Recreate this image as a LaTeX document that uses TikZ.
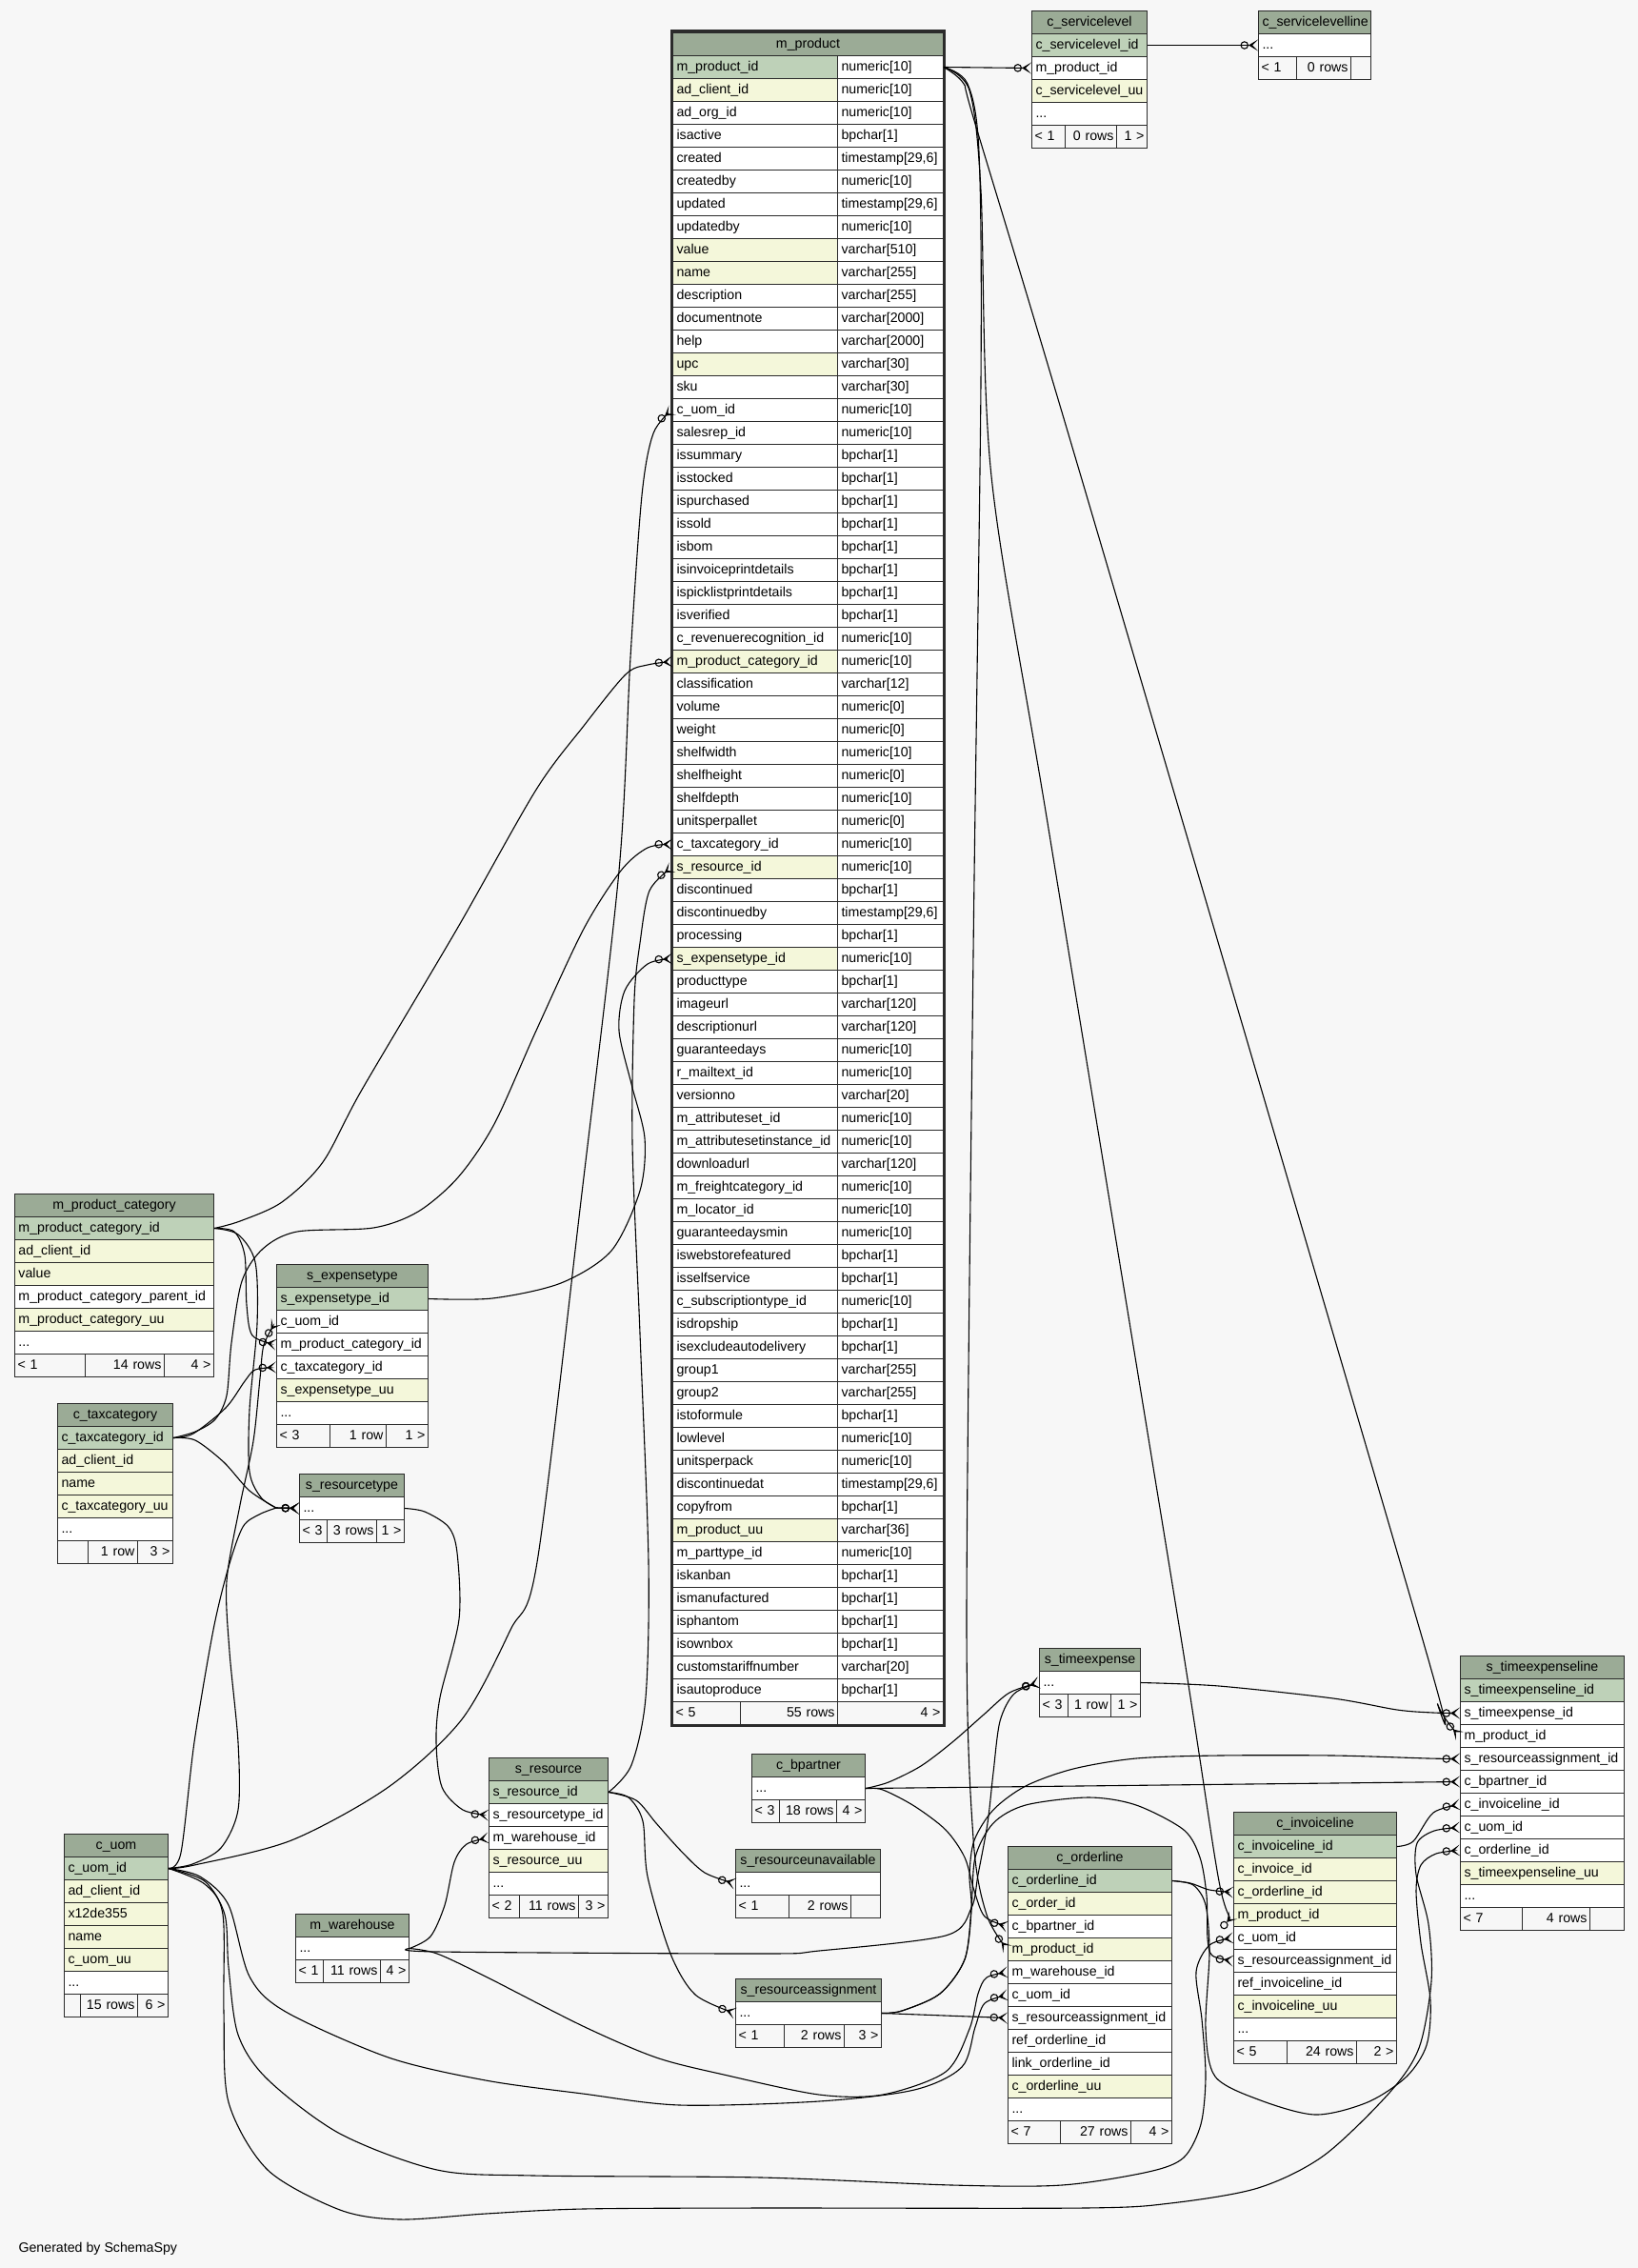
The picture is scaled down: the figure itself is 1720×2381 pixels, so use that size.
\documentclass[tikz,border=0pt]{standalone}
\usepackage{fontspec}
\setmainfont{Liberation Sans}
\usetikzlibrary{arrows.meta}
\definecolor{erdbg}{HTML}{F7F7F7}
\definecolor{erdhead}{HTML}{9BAB96}
\definecolor{erdpk}{HTML}{BED1B8}
\definecolor{erdidx}{HTML}{F4F7DA}
\definecolor{erdline}{HTML}{2B2B2B}
\hyphenpenalty=10000
\exhyphenpenalty=10000
\tikzset{
  cell/.style={draw=erdline, line width=1pt, anchor=north west, minimum height=24pt,
    inner xsep=4pt, inner ysep=0pt, text height=10.5pt, text depth=3pt, align=left,
    font=\fontsize{14.2}{17}\selectfont},
  hdr/.style={cell, fill=erdhead, align=center},
  pk/.style={cell, fill=erdpk},
  idx/.style={cell, fill=erdidx},
  col/.style={cell, fill=white},
  foot/.style={cell, inner xsep=3pt},
  fk/.style={line width=1.1pt,
    -{Circle[open,length=8.5pt,width=8.5pt] Stealth[reversed,length=10pt,width=12pt,inset=6pt]}},
}
\def\erdetc{etc}
\newcommand\erdtext[1]{\edef\erdtmp{#1}\ifx\erdtmp\erdetc...\else#1\fi}
\newcommand\erdtable[5]{%
  \pgfmathsetmacro\erdtw{#4-8}%
  \node[hdr, text width=\erdtw pt] (#1) at (#2,#3) {#1};
  \foreach \key/\kind [count=\k] in {#5}
    \node[\kind, text width=\erdtw pt] (#1-\key) at (#2,#3+24*\k) {\erdtext{\key}};
}
\newcommand\erdfoot[8]{%
  \pgfmathsetmacro\erdfa{#3-6}\pgfmathsetmacro\erdfb{#4-6}\pgfmathsetmacro\erdfc{#5-6}%
  \node[foot, text width=\erdfa pt] at (#1,#2) {#6};
  \node[foot, text width=\erdfb pt, align=right] at (#1+#3,#2) {#7};
  \node[foot, text width=\erdfc pt, align=right] at (#1+#3+#4,#2) {#8};
}
\begin{document}
\catcode`\_=12
\begin{tikzpicture}[x=1pt,y=-1pt]
\useasboundingbox (0,0) rectangle (1720,2381);
\fill[erdbg] (0,0) rectangle (1720,2381);

\node[hdr, text width=276pt] (m_product) at (706,34) {m_product};
\foreach \key/\type/\kind [count=\k] in {
  m_product_id/numeric[10]/pk, ad_client_id/numeric[10]/idx, ad_org_id/numeric[10]/col,
  isactive/bpchar[1]/col, created/{timestamp[29,6]}/col, createdby/numeric[10]/col,
  updated/{timestamp[29,6]}/col, updatedby/numeric[10]/col, value/varchar[510]/idx,
  name/varchar[255]/idx, description/varchar[255]/col, documentnote/varchar[2000]/col,
  help/varchar[2000]/col, upc/varchar[30]/idx, sku/varchar[30]/col, c_uom_id/numeric[10]/col,
  salesrep_id/numeric[10]/col, issummary/bpchar[1]/col, isstocked/bpchar[1]/col,
  ispurchased/bpchar[1]/col, issold/bpchar[1]/col, isbom/bpchar[1]/col,
  isinvoiceprintdetails/bpchar[1]/col, ispicklistprintdetails/bpchar[1]/col,
  isverified/bpchar[1]/col, c_revenuerecognition_id/numeric[10]/col,
  m_product_category_id/numeric[10]/idx, classification/varchar[12]/col,
  volume/numeric[0]/col, weight/numeric[0]/col, shelfwidth/numeric[10]/col,
  shelfheight/numeric[0]/col, shelfdepth/numeric[10]/col, unitsperpallet/numeric[0]/col,
  c_taxcategory_id/numeric[10]/col, s_resource_id/numeric[10]/idx, discontinued/bpchar[1]/col,
  discontinuedby/{timestamp[29,6]}/col, processing/bpchar[1]/col,
  s_expensetype_id/numeric[10]/idx, producttype/bpchar[1]/col, imageurl/varchar[120]/col,
  descriptionurl/varchar[120]/col, guaranteedays/numeric[10]/col, r_mailtext_id/numeric[10]/col,
  versionno/varchar[20]/col, m_attributeset_id/numeric[10]/col,
  m_attributesetinstance_id/numeric[10]/col, downloadurl/varchar[120]/col,
  m_freightcategory_id/numeric[10]/col, m_locator_id/numeric[10]/col,
  guaranteedaysmin/numeric[10]/col, iswebstorefeatured/bpchar[1]/col,
  isselfservice/bpchar[1]/col, c_subscriptiontype_id/numeric[10]/col, isdropship/bpchar[1]/col,
  isexcludeautodelivery/bpchar[1]/col, group1/varchar[255]/col, group2/varchar[255]/col,
  istoformule/bpchar[1]/col, lowlevel/numeric[10]/col, unitsperpack/numeric[10]/col,
  discontinuedat/{timestamp[29,6]}/col, copyfrom/bpchar[1]/col, m_product_uu/varchar[36]/idx,
  m_parttype_id/numeric[10]/col, iskanban/bpchar[1]/col, ismanufactured/bpchar[1]/col,
  isphantom/bpchar[1]/col, isownbox/bpchar[1]/col, customstariffnumber/varchar[20]/col,
  isautoproduce/bpchar[1]/col}{
  \node[\kind, text width=276pt] (m_product-\key) at (706,34+24*\k) {\key};
  \node[col, text width=103pt] at (879,34+24*\k) {\type};
}
\erdfoot{706}{1786}{71}{102}{111}{< 5}{55 rows}{4 >}
\draw[erdline, line width=3pt] (705,33) rectangle (991,1811);

\erdtable{c_servicelevel}{1083}{11}{121}{c_servicelevel_id/pk,m_product_id/col,c_servicelevel_uu/idx,etc/col}
\erdfoot{1083}{131}{35}{54}{32}{< 1}{0 rows}{1 >}
\erdtable{c_servicelevelline}{1321}{11}{118}{etc/col}
\erdfoot{1321}{59}{40}{57}{21}{< 1}{0 rows}{}
\erdtable{m_product_category}{15}{1253}{209}{m_product_category_id/pk,ad_client_id/idx,value/idx,m_product_category_parent_id/col,m_product_category_uu/idx,etc/col}
\erdfoot{15}{1421}{74}{83}{52}{< 1}{14 rows}{4 >}
\erdtable{s_expensetype}{290}{1327}{159}{s_expensetype_id/pk,c_uom_id/col,m_product_category_id/col,c_taxcategory_id/col,s_expensetype_uu/idx,etc/col}
\erdfoot{290}{1495}{56}{59}{44}{< 3}{1 row}{1 >}
\erdtable{c_taxcategory}{60}{1473}{121}{c_taxcategory_id/pk,ad_client_id/idx,name/idx,c_taxcategory_uu/idx,etc/col}
\erdfoot{60}{1617}{32}{52}{37}{}{1 row}{3 >}
\erdtable{s_resourcetype}{314}{1547}{110}{etc/col}
\erdfoot{314}{1595}{29}{52}{29}{< 3}{3 rows}{1 >}
\erdtable{c_uom}{67}{1925}{109}{c_uom_id/pk,ad_client_id/idx,x12de355/idx,name/idx,c_uom_uu/idx,etc/col}
\erdfoot{67}{2093}{17}{60}{32}{}{15 rows}{6 >}
\erdtable{m_warehouse}{310}{2009}{119}{etc/col}
\erdfoot{310}{2057}{29}{60}{30}{< 1}{11 rows}{4 >}
\erdtable{s_resource}{513}{1845}{125}{s_resource_id/pk,s_resourcetype_id/col,m_warehouse_id/col,s_resource_uu/idx,etc/col}
\erdfoot{513}{1989}{32}{62}{31}{< 2}{11 rows}{3 >}
\erdtable{s_resourceunavailable}{772}{1941}{152}{etc/col}
\erdfoot{772}{1989}{56}{65}{31}{< 1}{2 rows}{}
\erdtable{s_resourceassignment}{772}{2077}{153}{etc/col}
\erdfoot{772}{2125}{51}{63}{39}{< 1}{2 rows}{3 >}
\erdtable{c_bpartner}{789}{1841}{119}{etc/col}
\erdfoot{789}{1889}{29}{60}{30}{< 3}{18 rows}{4 >}
\erdtable{s_timeexpense}{1091}{1730}{106}{etc/col}
\erdfoot{1091}{1778}{30}{45}{31}{< 3}{1 row}{1 >}
\erdtable{c_orderline}{1058}{1938}{172}{c_orderline_id/pk,c_order_id/idx,c_bpartner_id/col,m_product_id/idx,m_warehouse_id/col,c_uom_id/col,s_resourceassignment_id/col,ref_orderline_id/col,link_orderline_id/col,c_orderline_uu/idx,etc/col}
\erdfoot{1058}{2226}{55}{74}{43}{< 7}{27 rows}{4 >}
\erdtable{c_invoiceline}{1295}{1902}{171}{c_invoiceline_id/pk,c_invoice_id/idx,c_orderline_id/idx,m_product_id/idx,c_uom_id/col,s_resourceassignment_id/col,ref_invoiceline_id/col,c_invoiceline_uu/idx,etc/col}
\erdfoot{1295}{2142}{56}{73}{42}{< 5}{24 rows}{2 >}
\erdtable{s_timeexpenseline}{1533}{1738}{172}{s_timeexpenseline_id/pk,s_timeexpense_id/col,m_product_id/col,s_resourceassignment_id/col,c_bpartner_id/col,c_invoiceline_id/col,c_uom_id/col,c_orderline_id/col,s_timeexpenseline_uu/idx,etc/col}
\erdfoot{1533}{2002}{65}{71}{36}{< 7}{4 rows}{}

\node[anchor=west, font=\fontsize{14.2}{17}\selectfont] (credit) at (16,2361) {Generated by SchemaSpy};

\draw[fk] (m_product-m_product_id.east) -- (c_servicelevel-m_product_id.west);
\draw[fk] (c_servicelevel-c_servicelevel_id.east) -- (c_servicelevelline-etc.west);
\draw[fk] plot[smooth] coordinates {(m_product-m_product_id.east) (1012,88) (1024,130) (1135,500) (1490,1708) (1510,1790) (s_timeexpenseline-m_product_id.west)};
\draw[fk] plot[smooth] coordinates {(m_product-m_product_id.east) (1016,88) (1028,160) (1030,400) (1022,1000) (1015,1700) (1022,1930) (1036,2010) (c_orderline-m_product_id.west)};
\draw[fk] plot[smooth] coordinates {(m_product-m_product_id.east) (1018,95) (1030,200) (1041,500) (1101,870) (1237,1700) (1280,1975) (c_invoiceline-m_product_id.west)};
\draw[fk] plot[smooth] coordinates {(c_uom-c_uom_id.east) (204,1958) (306,1932) (408,1876) (485,1805) (536,1711) (564,1640) (610,1261) (650,914) (662,690) (674,520) (686,455) (m_product-c_uom_id.west)};
\draw[fk] plot[smooth] coordinates {(m_product_category-m_product_category_id.east) (252,1282) (296,1262) (339,1220) (380,1144) (480,975) (563,829) (613,762) (657,708) (680,698) (m_product-m_product_category_id.west)};
\draw[fk] plot[smooth] coordinates {(m_product_category-m_product_category_id.east) (246,1293) (257,1318) (259,1370) (265,1402) (s_expensetype-m_product_category_id.west)};
\draw[fk] plot[smooth] coordinates {(m_product_category-m_product_category_id.east) (250,1296) (268,1325) (270,1390) (262,1480) (262,1545) (274,1572) (290,1583)} -- (s_resourcetype-etc.west);
\draw[fk] plot[smooth] coordinates {(c_taxcategory-c_taxcategory_id.east) (203,1505) (237,1478) (257,1450) (268,1438) (s_expensetype-c_taxcategory_id.west)};
\draw[fk] plot[smooth] coordinates {(c_taxcategory-c_taxcategory_id.east) (205,1512) (235,1535) (262,1565) (290,1583)} -- (s_resourcetype-etc.west);
\draw[fk] plot[smooth] coordinates {(c_taxcategory-c_taxcategory_id.east) (205,1503) (226,1490) (238,1465) (243,1410) (254,1345) (276,1311) (312,1293) (392,1289) (439,1272) (481,1236) (519,1180) (563,1082) (613,975) (652,914) (680,890) (m_product-c_taxcategory_id.west)};
\draw[fk] plot[smooth] coordinates {(c_uom-c_uom_id.east) (202,1957) (232,1940) (250,1900) (250,1829) (241,1734) (238,1660) (252,1580) (266,1513) (273,1447) (277,1412) (s_expensetype-c_uom_id.west)};
\draw[fk] plot[smooth] coordinates {(c_uom-c_uom_id.east) (190,1945) (204,1829) (224,1711) (240,1645) (255,1603) (272,1590) (290,1583)} -- (s_resourcetype-etc.west);
\draw[fk] plot[smooth] coordinates {(c_uom-c_uom_id.east) (210,1970) (240,2000) (262,2075) (300,2112) (408,2160) (510,2184) (612,2198) (714,2210) (860,2206) (960,2194) (1010,2170) (1024,2128) (1034,2103) (c_orderline-c_uom_id.west)};
\draw[fk] plot[smooth] coordinates {(c_uom-c_uom_id.east) (215,1975) (236,2010) (240,2065) (250,2136) (281,2183) (357,2240) (459,2278) (561,2284) (800,2286) (1000,2294) (1115,2294) (1206,2280) (1243,2265) (1261,2230) (1266,2180) (1262,2120) (1256,2070) (1270,2042) (c_invoiceline-c_uom_id.west)};
\draw[fk] plot[smooth] coordinates {(c_uom-c_uom_id.east) (215,1978) (234,2010) (235,2112) (240,2207) (281,2278) (357,2320) (420,2330) (510,2324) (612,2319) (800,2318) (1138,2318) (1229,2313) (1321,2297) (1390,2263) (1459,2197) (1490,2150) (1503,2080) (1500,2020) (1487,1968) (1488,1935) (1506,1922) (s_timeexpenseline-c_uom_id.west)};
\draw[fk] plot[smooth] coordinates {(c_bpartner-etc.east) (927,1879) (960,1896) (993,1921) (1013,1950) (1023,1985) (1034,2012) (c_orderline-c_bpartner_id.west)};
\draw[fk] plot[smooth] coordinates {(c_bpartner-etc.east) (933,1871) (967,1854) (1000,1829) (1033,1800) (1060,1777) (s_timeexpense-etc.west)};
\draw[fk] (c_bpartner-etc.east) -- (s_timeexpenseline-c_bpartner_id.west);
\draw[fk] plot[smooth] coordinates {(m_warehouse-etc.east) (460,2049) (800,2051) (860,2048) (993,2032) (1020,2003) (1027,1968) (1037,1914) (1043,1861) (1050,1807) (1065,1778) (s_timeexpense-etc.west)};
\draw[fk] plot[smooth] coordinates {(m_warehouse-etc.east) (459,2051) (510,2075) (612,2127) (689,2160) (760,2178) (860,2199) (927,2199) (993,2175) (1018,2130) (1027,2093) (1036,2076) (c_orderline-m_warehouse_id.west)};
\draw[fk] plot[smooth] coordinates {(m_warehouse-etc.east) (452,2033) (467,2000) (477,1955) (490,1936) (s_resource-m_warehouse_id.west)};
\draw[fk] plot[smooth] coordinates {(s_resourcetype-etc.east) (446,1587) (471,1603) (480,1630) (482,1700) (462,1782) (458,1829) (464,1876) (486,1900) (s_resource-s_resourcetype_id.west)};
\draw[fk] plot[smooth] coordinates {(s_resource-s_resource_id.east) (663,1853) (678,1782) (681,1640) (672,1400) (664,1200) (666,1050) (672,990) (682,935) (m_product-s_resource_id.west)};
\draw[fk] plot[smooth] coordinates {(s_expensetype-s_expensetype_id.east) (517,1363) (589,1347) (642,1313) (672,1250) (677,1195) (663,1138) (650,1082) (656,1040) (680,1012) (m_product-s_expensetype_id.west)};
\draw[fk] plot[smooth] coordinates {(s_resource-s_resource_id.east) (668,1890) (689,1914) (714,1942) (740,1966) (s_resourceunavailable-etc.west)};
\draw[fk] plot[smooth] coordinates {(s_resource-s_resource_id.east) (660,1887) (675,1912) (680,1970) (704,2051) (730,2094) (s_resourceassignment-etc.west)};
\draw[fk] (s_resourceassignment-etc.east) -- (c_orderline-s_resourceassignment_id.west);
\draw[fk] plot[smooth] coordinates {(s_resourceassignment-etc.east) (947,2111) (987,2093) (1013,2057) (1020,2004) (1018,1968) (1023,1932) (1043,1900) (1077,1875) (1127,1857) (1193,1846) (1280,1843) (1400,1843) (1500,1846) (s_timeexpenseline-s_resourceassignment_id.west)};
\draw[fk] plot[smooth] coordinates {(s_resourceassignment-etc.east) (947,2111) (987,2093) (1013,2057) (1020,2004) (1024,1950) (1043,1914) (1077,1895) (1143,1887) (1193,1895) (1243,1921) (1260,1950) (1267,1990) (1268,2035) (1273,2053) (c_invoiceline-s_resourceassignment_id.west)};
\draw[fk] plot[smooth] coordinates {(c_orderline-c_orderline_id.east) (1250,1977) (1270,1984) (c_invoiceline-c_orderline_id.west)};
\draw[fk] plot[smooth] coordinates {(c_orderline-c_orderline_id.east) (1253,1979) (1266,2000) (1270,2050) (1266,2130) (1276,2180) (1321,2204) (1381,2220) (1436,2207) (1477,2180) (1498,2147) (1502,2100) (1492,2040) (1487,1985) (1492,1958) (1508,1946) (s_timeexpenseline-c_orderline_id.west)};
\draw[fk] plot[smooth] coordinates {(s_timeexpense-etc.east) (1280,1770) (1400,1783) (1467,1795) (1505,1798) (s_timeexpenseline-s_timeexpense_id.west)};
\draw[fk] plot[smooth] coordinates {(c_invoiceline-c_invoiceline_id.east) (1484,1933) (1505,1903) (s_timeexpenseline-c_invoiceline_id.west)};
\end{tikzpicture}
\end{document}
